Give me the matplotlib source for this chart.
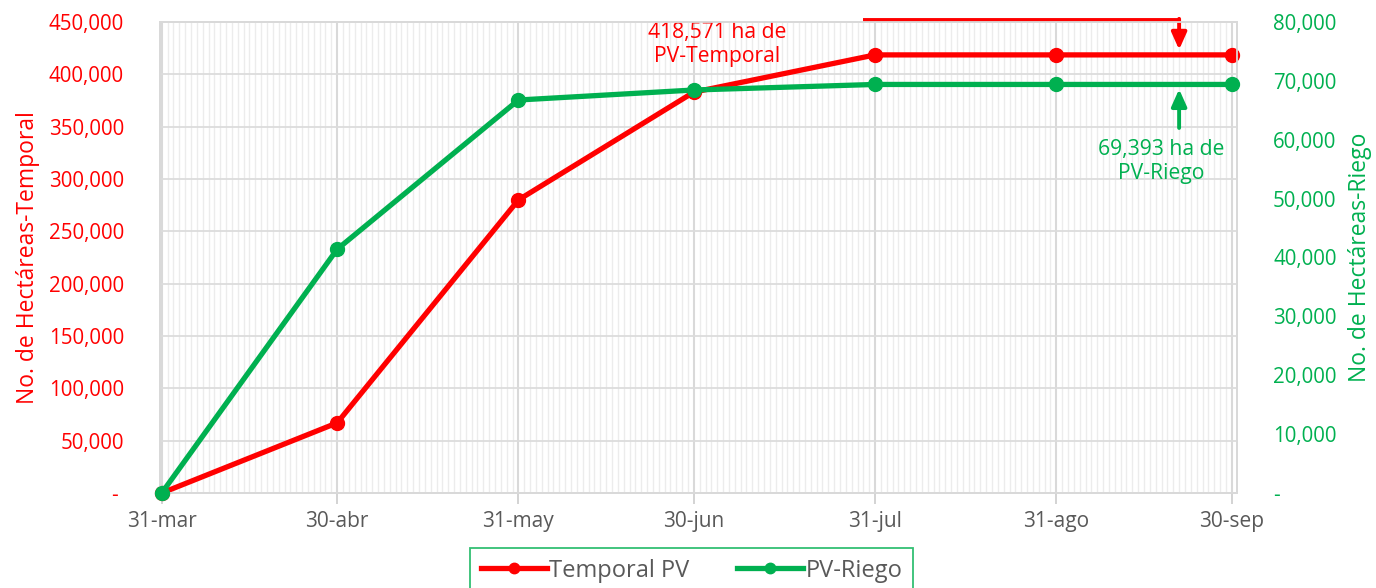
import numpy as np
import pandas as pd
import matplotlib
matplotlib.use("Agg")
import matplotlib.pyplot as plt
import matplotlib.dates as mdates
from matplotlib.ticker import FuncFormatter, MultipleLocator

plt.rcParams['font.family'] = ['Open Sans', 'DejaVu Sans']

# datos
fechas = pd.to_datetime(["2023-03-31", "2023-04-30", "2023-05-31", "2023-06-30",
                         "2023-07-31", "2023-08-31", "2023-09-30"])
etiquetas_x = ["31-mar", "30-abr", "31-may", "30-jun", "31-jul", "31-ago", "30-sep"]
temporal = [0, 67000, 280000, 383000, 418571, 418571, 418571]
riego = [0, 41400, 66750, 68450, 69393, 69393, 69393]

rojo = '#ff0000'
verde = '#00b050'
gris = '#595959'

fig = plt.figure(figsize=(13.76, 5.88), dpi=100)
ax1 = fig.add_axes([160/1376, 1-493/588, (1237-160)/1376, (493-22)/588])
ax2 = ax1.twinx()

ax1.plot(fechas, temporal, color=rojo, lw=3.8, marker='o', markersize=10,
         label='Temporal PV', clip_on=False, zorder=3)
ax2.plot(fechas, riego, color=verde, lw=3.8, marker='o', markersize=10,
         label='PV-Riego', clip_on=False, zorder=3)

ax1.set_xlim(fechas[0] - pd.Timedelta(days=0.3), fechas[-1] + pd.Timedelta(days=0.9))
ax1.set_ylim(0, 450000)
ax2.set_ylim(0, 80000)

ax1.set_xticks(fechas)
ax1.set_xticklabels(etiquetas_x)
ax1.xaxis.set_minor_locator(mdates.DayLocator())
ax1.yaxis.set_major_locator(MultipleLocator(50000))
ax2.yaxis.set_major_locator(MultipleLocator(10000))

ax1.yaxis.set_major_formatter(FuncFormatter(lambda v, p: '- ' if v == 0 else f'{v:,.0f}'))
ax2.yaxis.set_major_formatter(FuncFormatter(lambda v, p: '-' if v == 0 else f'{v:,.0f}'))

ax1.grid(axis='x', which='minor', color='#ececec', lw=1.0)
ax1.grid(axis='x', which='major', color='#d9d9d9', lw=1.5)
ax1.grid(axis='y', which='major', color='#dcdcdc', lw=1.3)
ax1.set_axisbelow(True)

ax1.tick_params(axis='x', which='major', colors='#d0d0d0', length=8, width=1.3,
                labelcolor=gris, labelsize=15, pad=5)
ax1.tick_params(axis='x', which='minor', length=0)
ax1.tick_params(axis='y', length=0, labelcolor=rojo, labelsize=14.8, pad=26)
ax2.tick_params(axis='y', length=0, labelcolor=verde, labelsize=14.8, pad=26)

for ax in (ax1, ax2):
    for s in ax.spines.values():
        s.set_color('#d9d9d9')
        s.set_linewidth(1.3)

ax1.set_ylabel('No. de Hectáreas-Temporal', color=rojo, fontsize=16.5, labelpad=6)
ax2.set_ylabel('No. de Hectáreas-Riego', color=verde, fontsize=16.5, labelpad=8)

# anotaciones
x_flecha = pd.Timestamp("2023-09-21")
estilo = '-|>,head_length=0.85,head_width=0.38'
ax1.plot([pd.Timestamp("2023-07-29"), x_flecha], [451800, 451800], color=rojo,
         lw=2.8, clip_on=False, solid_capstyle='butt', zorder=4)
ax1.annotate('', xy=(x_flecha, temporal[-1] + 5000), xytext=(x_flecha, 453000),
             arrowprops=dict(arrowstyle=estilo, color=rojo, lw=2.8, mutation_scale=12,
                             shrinkA=0, shrinkB=0), annotation_clip=False, zorder=4)
ax1.text(pd.Timestamp("2023-07-04"), 428500, f'{temporal[-1]:,} ha de\nPV-Temporal',
         color=rojo, fontsize=15.2, ha='center', va='center', linespacing=1.2)

ax2.annotate('', xy=(x_flecha, riego[-1] - 800), xytext=(x_flecha, 62000),
             arrowprops=dict(arrowstyle=estilo, color=verde, lw=2.8, mutation_scale=12,
                             shrinkA=0, shrinkB=0), zorder=4)
ax2.text(pd.Timestamp("2023-09-18"), 56300, f'{riego[-1]:,} ha de\nPV-Riego',
         color=verde, fontsize=15.2, ha='center', va='center', linespacing=1.2)

h1, l1 = ax1.get_legend_handles_labels()
h2, l2 = ax2.get_legend_handles_labels()
leg = fig.legend(h1 + h2, l1 + l2, loc='upper center', ncol=2,
                 bbox_to_anchor=((471 + 912) / 2 / 1376, 1 - 548/588),
                 fontsize=17, frameon=True, fancybox=False, handlelength=2.8,
                 handletextpad=0.1, columnspacing=2.0, borderpad=0.45,
                 borderaxespad=0, markerscale=0.75)
leg.get_frame().set_edgecolor(verde)
leg.get_frame().set_linewidth(1.3)
for t in leg.get_texts():
    t.set_color(gris)

fig.savefig("out.png", dpi=100)
